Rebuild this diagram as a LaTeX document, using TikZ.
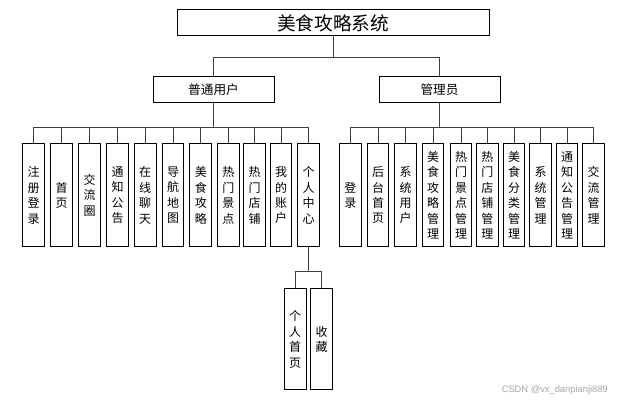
\documentclass[tikz,border=0pt]{standalone}
\usepackage{fontspec}
\newfontfamily\cjk{Noto Sans CJK SC}
\setsansfont{Liberation Sans}
\begin{document}
\begin{tikzpicture}[x=0.75pt,y=-0.75pt,
  box/.style={draw=black,line width=0.75pt,fill=white,inner sep=0pt,align=center},
  titlebox/.style={box,minimum width=234pt,minimum height=19.5pt,font=\cjk\fontsize{14}{16}\selectfont},
  rolebox/.style={box,minimum width=90.75pt,minimum height=19.5pt,font=\cjk\fontsize{9.5}{11}\selectfont},
  leaf/.style={box,minimum width=16.3pt,minimum height=77pt,font=\cjk\fontsize{9}{11.6}\selectfont},
  subleaf/.style={leaf,minimum height=76pt},
  conn/.style={draw=black!75,line width=0.75pt},
  wm/.style={font=\sffamily\fontsize{7}{8}\selectfont,text=black!35,inner sep=0pt}]
\useasboundingbox (0,0) rectangle (630,402);
\fill[white] (0,0) rectangle (630,402);
% top
\node[titlebox] (top) at (333,23) {美食攻略系统};
\node[rolebox] (ua) at (213.5,90) {普通用户};
\node[rolebox] (ad) at (439.5,90) {管理员};
\coordinate (bus0) at (333,58);
\draw[conn] (top.south) -- (bus0) -| (ua.north);
\draw[conn] (bus0) -| (ad.north);
% user leaves
\node[leaf] (u1) at (33.5,195.3) {注\\册\\登\\录};
\node[leaf] (u2) at (61.5,195.3) {首\\页};
\node[leaf] (u3) at (89.5,195.3) {交\\流\\圈};
\node[leaf] (u4) at (117.5,195.3) {通\\知\\公\\告};
\node[leaf] (u5) at (145.2,195.3) {在\\线\\聊\\天};
\node[leaf] (u6) at (173,195.3) {导\\航\\地\\图};
\node[leaf] (u7) at (200.8,195.3) {美\\食\\攻\\略};
\node[leaf] (u8) at (228.3,195.3) {热\\门\\景\\点};
\node[leaf] (u9) at (254.6,195.3) {热\\门\\店\\铺};
\node[leaf] (u10) at (281.1,195.3) {我\\的\\账\\户};
\node[leaf] (u11) at (308.6,195.3) {个\\人\\中\\心};
\coordinate (busU) at (213.5,127.3);
\draw[conn] (ua.south) -- (busU);
\foreach \n in {u1,u2,u3,u4,u5,u6,u7,u8,u9,u10,u11}{\draw[conn] (busU) -| (\n.north);}
% admin leaves
\node[leaf] (a1) at (350.3,195.3) {登\\录};
\node[leaf] (a2) at (378,195.3) {后\\台\\首\\页};
\node[leaf] (a3) at (405.5,195.3) {系\\统\\用\\户};
\node[leaf] (a4) at (433,195.3) {美\\食\\攻\\略\\管\\理};
\node[leaf] (a5) at (461,195.3) {热\\门\\景\\点\\管\\理};
\node[leaf] (a6) at (487.3,195.3) {热\\门\\店\\铺\\管\\理};
\node[leaf] (a7) at (514,195.3) {美\\食\\分\\类\\管\\理};
\node[leaf] (a8) at (540.5,195.3) {系\\统\\管\\理};
\node[leaf] (a9) at (567,195.3) {通\\知\\公\\告\\管\\理};
\node[leaf] (a10) at (593.5,195.3) {交\\流\\管\\理};
\coordinate (busA) at (439.5,127.3);
\draw[conn] (ad.south) -- (busA);
\foreach \n in {a1,a2,a3,a4,a5,a6,a7,a8,a9,a10}{\draw[conn] (busA) -| (\n.north);}
% personal center children
\node[subleaf] (p1) at (295.2,339.3) {个\\人\\首\\页};
\node[subleaf] (p2) at (321.5,339.3) {收\\藏};
\coordinate (busP) at (308.6,271.7);
\draw[conn] (u11.south) -- (busP);
\draw[conn] (busP) -| (p1.north);
\draw[conn] (busP) -| (p2.north);
% watermark
\node[wm,anchor=west] (wmk) at (501.5,390.5) {CSDN @vx\_danpianji889};
\end{tikzpicture}
\end{document}
